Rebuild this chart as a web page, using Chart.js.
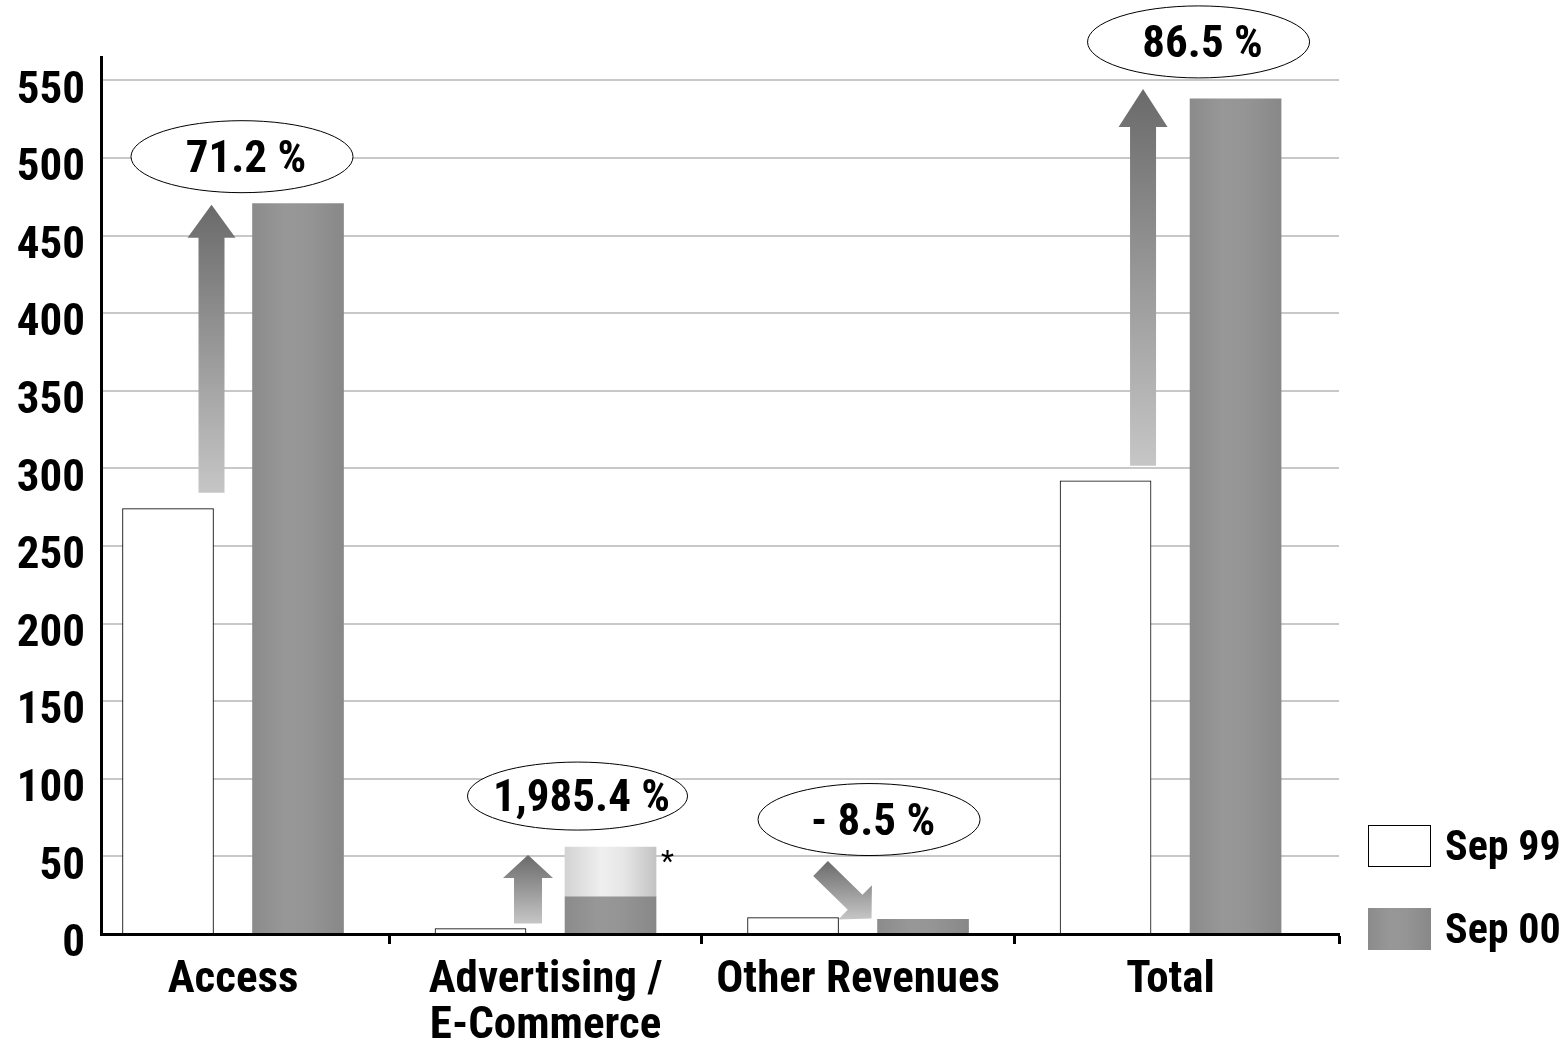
<!DOCTYPE html>
<html>
<head>
<meta charset="utf-8">
<script src="https://cdn.jsdelivr.net/npm/chart.js@4.4.1/dist/chart.umd.min.js"></script>
<style>
    html, body { margin: 0; padding: 0; background: #fff; }
    #area { width: 1566px; height: 1040px; position: relative; }
</style>
</head>
<body>
<div id="area"><canvas id="graficoReceitas"></canvas></div>
<script>
const categorias = ['Access', ['Advertising /', 'E-Commerce'], 'Other Revenues', 'Total'];
const valoresSep99 = [274, 3.5, 10.6, 292];
const valoresSep00 = [470.5, 24, 9.4, 538];
const valoresSep00Asterisco = [null, 32, null, null];
const variacoes = ['71.2 %', '1,985.4 %', '- 8.5 %', '86.5 %'];
const rotulosSeries = ['Sep 99', 'Sep 00'];
const ticksY = [0, 50, 100, 150, 200, 250, 300, 350, 400, 450, 500, 550];

const FONTE = "'Roboto Condensed', 'Liberation Sans', sans-serif";
const TAM_FONTE = 45;
const LARGURA_BARRA = 91;
const MEIO_PAR = 0.208;      // deslocamento de cada barra em relacao ao centro da categoria
const X_MIN = -0.4224;
const X_MAX = 3.539;

const CINZA_ESCURO = [[0, '#8b8b8b'], [0.35, '#979797'], [0.6, '#959595'], [1, '#888888']];
const CINZA_CLARO = [[0, '#d3d3d3'], [0.4, '#efefef'], [0.65, '#e6e6e6'], [1, '#c3c3c3']];

// posicao dos baloes (em px, relativo ao centro da categoria e ao topo da barra mais alta)
const baloes = [
    { dx: 9, dy: -47, rx: 111, ry: 36 },
    { dx: 32, dy: -51, rx: 110, ry: 34 },
    { dx: 11, dy: -98, rx: 111, ry: 36 },
    { dx: 28, dy: -57, rx: 111, ry: 36 }
];

// setas: dx a partir da borda direita da barra Sep 99
const setas = [
    { dx: -2, base: -16, ponta: 1, haste: 26, cabeca: 48, comp: 33 },
    { dx: 2, base: -5, ponta: 8, haste: 28, cabeca: 50, comp: 23 },
    null,
    { dx: -8, base: -15, ponta: -10, haste: 26, cabeca: 49, comp: 38 }
];

function gradienteHorizontal(c, esq, dir, paradas) {
    const g = c.createLinearGradient(esq, 0, dir, 0);
    for (let p of paradas) g.addColorStop(p[0], p[1]);
    return g;
}

function preenchimento(paradas) {
    return function (ctx) {
        const chart = ctx.chart;
        const escala = chart.scales.x;
        if (ctx.type !== 'data' || !escala || !ctx.raw) return paradas[1][1];
        const centro = escala.getPixelForValue(ctx.raw.x);
        if (!Number.isFinite(centro)) return paradas[1][1];
        return gradienteHorizontal(chart.ctx, centro - LARGURA_BARRA / 2, centro + LARGURA_BARRA / 2, paradas);
    };
}

function desenharSeta(c, x0, y0, x1, y1, haste, cabeca, comp) {
    const dx = x1 - x0, dy = y1 - y0;
    const len = Math.hypot(dx, dy);
    const ux = dx / len, uy = dy / len;
    const nx = -uy, ny = ux;
    const bx = x1 - ux * comp, by = y1 - uy * comp;
    const pts = [
        [x0 + nx * haste / 2, y0 + ny * haste / 2],
        [bx + nx * haste / 2, by + ny * haste / 2],
        [bx + nx * cabeca / 2, by + ny * cabeca / 2],
        [x1, y1],
        [bx - nx * cabeca / 2, by - ny * cabeca / 2],
        [bx - nx * haste / 2, by - ny * haste / 2],
        [x0 - nx * haste / 2, y0 - ny * haste / 2]
    ];
    const ys = pts.map(p => p[1]);
    const g = c.createLinearGradient(0, Math.min(...ys), 0, Math.max(...ys));
    g.addColorStop(0, '#6a6a6a');
    g.addColorStop(1, '#c6c6c6');
    c.beginPath();
    c.moveTo(pts[0][0], pts[0][1]);
    for (let p of pts.slice(1)) c.lineTo(p[0], p[1]);
    c.closePath();
    c.fillStyle = g;
    c.fill();
}

const anotacoes = {
    id: 'anotacoes',
    afterDatasetsDraw(chart) {
        const c = chart.ctx;
        const x = chart.scales.x;
        const y = chart.scales.y;
        c.save();

        categorias.forEach((cat, i) => {
            const topo99 = y.getPixelForValue(valoresSep99[i]);
            const topo00 = y.getPixelForValue(valoresSep00[i] + (valoresSep00Asterisco[i] || 0));
            const dir99 = x.getPixelForValue(i - MEIO_PAR) + LARGURA_BARRA / 2;
            const esq00 = x.getPixelForValue(i + MEIO_PAR) - LARGURA_BARRA / 2;

            // setas de variacao
            const s = setas[i];
            if (s) {
                const sx = dir99 + s.dx;
                desenharSeta(c, sx, topo99 + s.base, sx, topo00 + s.ponta, s.haste, s.cabeca, s.comp);
            } else {
                const px = esq00 - 6, py = topo00 - 1;
                desenharSeta(c, px - 51, py - 50, px, py, 21, 48, 23);
            }

            // baloes com o percentual
            const b = baloes[i];
            const cx = x.getPixelForValue(i) + b.dx;
            const cy = Math.min(topo99, topo00) + b.dy;
            c.beginPath();
            c.ellipse(cx, cy, b.rx, b.ry, 0, 0, Math.PI * 2);
            c.fillStyle = '#fff';
            c.fill();
            c.lineWidth = 1;
            c.strokeStyle = '#000';
            c.stroke();
            c.fillStyle = '#000';
            c.font = 'bold ' + TAM_FONTE + 'px ' + FONTE;
            c.textAlign = 'center';
            c.textBaseline = 'middle';
            c.fillText(variacoes[i], cx + 4, cy + 4);

            if (valoresSep00Asterisco[i] !== null) {
                c.font = '30px ' + FONTE;
                c.textAlign = 'left';
                c.textBaseline = 'alphabetic';
                c.fillText('*', esq00 + LARGURA_BARRA + 5, topo00 + 24);
            }
        });
        c.restore();
    },
    afterDraw(chart) {
        // legenda
        const c = chart.ctx;
        const area = chart.chartArea;
        const lx = area.right + 29;
        const caixas = [area.bottom - 109, area.bottom - 26];
        c.save();
        caixas.forEach((topo, k) => {
            if (k === 0) {
                c.fillStyle = '#fff';
                c.fillRect(lx, topo, 63, 42);
                c.strokeStyle = '#000';
                c.lineWidth = 1;
                c.strokeRect(lx + 0.5, topo + 0.5, 62, 41);
            } else {
                c.fillStyle = gradienteHorizontal(c, lx, lx + 63, CINZA_ESCURO);
                c.fillRect(lx, topo, 63, 42);
            }
            c.fillStyle = '#000';
            c.font = 'bold 42px ' + FONTE;
            c.textAlign = 'left';
            c.textBaseline = 'middle';
            c.fillText(rotulosSeries[k], lx + 77, topo + 24);
        });
        c.restore();
    }
};

const dadosSep99 = valoresSep99.map((v, i) => ({ x: i - MEIO_PAR, y: v }));
const dadosSep00 = valoresSep00.map((v, i) => ({ x: i + MEIO_PAR, y: v }));
const dadosAsterisco = valoresSep00Asterisco
    .map((v, i) => ({ x: i + MEIO_PAR, y: v }))
    .filter(p => p.y !== null);

const ctx = document.getElementById('graficoReceitas').getContext('2d');
const grafico = new Chart(ctx, {
    type: 'bar',
    data: {
        datasets: [{
            label: rotulosSeries[0],
            data: dadosSep99,
            stack: 's99',
            backgroundColor: '#ffffff',
            borderColor: '#000000',
            borderWidth: 1
        }, {
            label: rotulosSeries[1],
            data: dadosSep00,
            stack: 's00',
            backgroundColor: preenchimento(CINZA_ESCURO)
        }, {
            label: rotulosSeries[1] + ' *',
            data: dadosAsterisco,
            stack: 's00',
            backgroundColor: preenchimento(CINZA_CLARO)
        }]
    },
    options: {
        responsive: true,
        maintainAspectRatio: false,
        animation: false,
        grouped: false,
        barThickness: LARGURA_BARRA,
        layout: { padding: { top: 57, right: 227, bottom: 0, left: 0 } },
        plugins: {
            legend: { display: false },
            tooltip: { enabled: false }
        },
        scales: {
            x: {
                type: 'linear',
                min: X_MIN,
                max: X_MAX,
                offset: false,
                afterBuildTicks: (escala) => {
                    const marcas = [];
                    categorias.forEach((c, i) => {
                        marcas.push({ value: i });
                        if (i < categorias.length - 1) marcas.push({ value: i + 0.5 });
                    });
                    marcas.push({ value: X_MAX });
                    escala.ticks = marcas;
                },
                afterFit: (escala) => { escala.height = 106; },
                grid: {
                    offset: false,
                    drawOnChartArea: false,
                    drawTicks: true,
                    tickLength: 10,
                    tickWidth: 3,
                    tickColor: (c) => Number.isInteger(c.tick.value) ? 'rgba(0,0,0,0)' : '#000'
                },
                border: { display: true, color: '#000', width: 3, z: 1 },
                ticks: {
                    autoSkip: false,
                    maxRotation: 0,
                    minRotation: 0,
                    padding: 13,
                    color: '#000',
                    font: { family: FONTE, size: TAM_FONTE, weight: 'bold', lineHeight: 1.04 },
                    callback: (valor) => Number.isInteger(valor) ? categorias[valor] : ''
                }
            },
            y: {
                min: 0,
                max: 565,
                afterBuildTicks: (escala) => { escala.ticks = ticksY.map(v => ({ value: v })); },
                afterFit: (escala) => { escala.width = 101; },
                grid: { color: '#c8c8c8', lineWidth: 2, drawTicks: false },
                border: { display: true, color: '#000', width: 3, z: 1 },
                ticks: {
                    padding: 16,
                    labelOffset: 11,
                    color: '#000',
                    font: { family: FONTE, size: TAM_FONTE, weight: 'bold' }
                }
            }
        }
    },
    plugins: [anotacoes]
});
</script>
</body>
</html>
